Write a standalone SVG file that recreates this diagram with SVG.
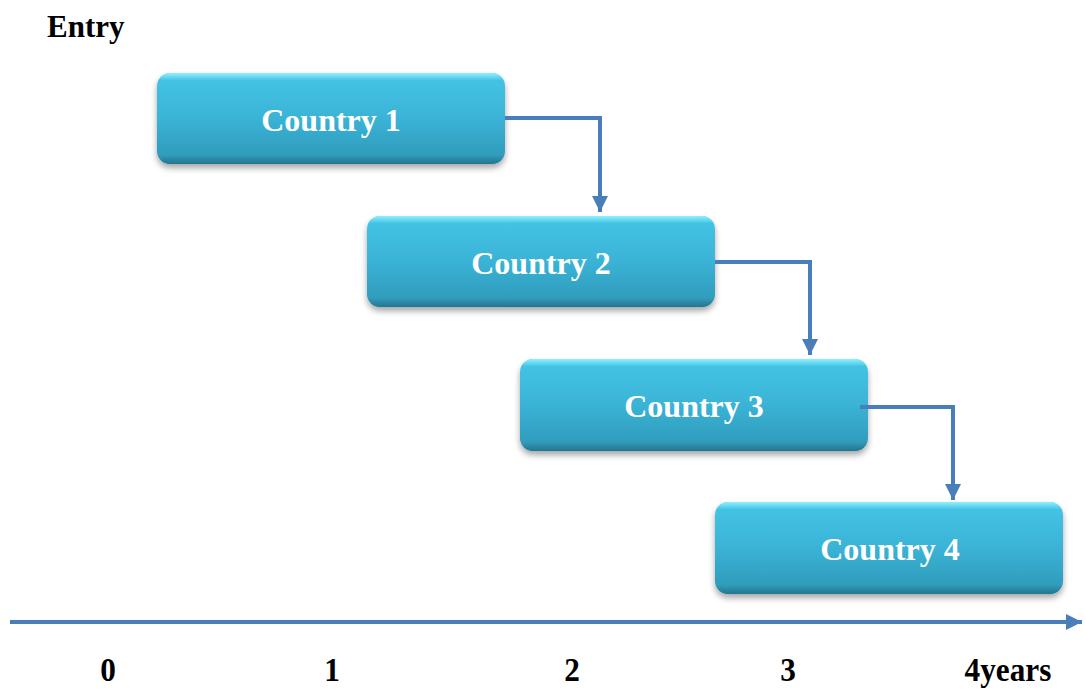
<svg xmlns="http://www.w3.org/2000/svg" width="1086" height="690" viewBox="0 0 1086 690">
<defs>
<linearGradient id="boxg" x1="0" y1="0" x2="0" y2="1">
<stop offset="0" stop-color="#45c6e6"/>
<stop offset="0.5" stop-color="#3ab3d6"/>
<stop offset="1" stop-color="#2e97b6"/>
</linearGradient>
<linearGradient id="edge" x1="0" y1="0" x2="0" y2="1">
<stop offset="0" stop-color="#8ff0ff"/>
<stop offset="0.08" stop-color="#8ff0ff" stop-opacity="0"/>
<stop offset="0.9" stop-color="#1f6f86" stop-opacity="0"/>
<stop offset="1" stop-color="#1f6f86" stop-opacity="0.8"/>
</linearGradient>
<filter id="sh" x="-10%" y="-20%" width="120%" height="150%">
<feGaussianBlur in="SourceAlpha" stdDeviation="3"/>
<feOffset dx="0" dy="4"/>
<feComponentTransfer><feFuncA type="linear" slope="0.35"/></feComponentTransfer>
<feMerge><feMergeNode/><feMergeNode in="SourceGraphic"/></feMerge>
</filter>
<marker id="ah" viewBox="0 0 10 10" refX="10" refY="5" markerWidth="16" markerHeight="16" markerUnits="userSpaceOnUse" orient="auto">
<path d="M0,0 L10,5 L0,10 z" fill="#4a7ebb"/>
</marker>
</defs>
<style>
.box{fill:url(#boxg);filter:url(#sh)}
.bev{fill:url(#edge)}
.lbl{font-family:"Liberation Serif","Times New Roman",serif;font-weight:bold;font-size:32px;fill:#ffffff;text-anchor:middle}
.ax{font-family:"Liberation Serif","Times New Roman",serif;font-weight:bold;font-size:34px;fill:#000000;text-anchor:middle}
.con{fill:none;stroke:#4a7ebb;stroke-width:4}
</style>
<rect width="1086" height="690" fill="#ffffff"/>
<text x="47" y="37" font-family="Liberation Serif, Times New Roman, serif" font-weight="bold" font-size="31" fill="#000">Entry</text>
<g id="country1">
<rect class="box" x="157" y="73" width="348" height="91" rx="13"/>
<rect class="bev" x="157" y="73" width="348" height="91" rx="13"/>
<text class="lbl" x="331" y="131">Country 1</text>
</g>
<g id="country2">
<rect class="box" x="367" y="216" width="348" height="91" rx="13"/>
<rect class="bev" x="367" y="216" width="348" height="91" rx="13"/>
<text class="lbl" x="541" y="274">Country 2</text>
</g>
<g id="country3">
<rect class="box" x="520" y="359" width="348" height="92" rx="13"/>
<rect class="bev" x="520" y="359" width="348" height="92" rx="13"/>
<text class="lbl" x="694" y="417">Country 3</text>
</g>
<g id="country4">
<rect class="box" x="715" y="502" width="348" height="92" rx="13"/>
<rect class="bev" x="715" y="502" width="348" height="92" rx="13"/>
<text class="lbl" x="890" y="560">Country 4</text>
</g>
<g id="connectors">
<polyline class="con" points="505,118 600,118 600,212" marker-end="url(#ah)"/>
<polyline class="con" points="715,262 810,262 810,355" marker-end="url(#ah)"/>
<polyline class="con" points="860,407 953,407 953,500" marker-end="url(#ah)"/>
<line class="con" x1="10" y1="622" x2="1082" y2="622" marker-end="url(#ah)"/>
</g>
<g id="axis-labels">
<text class="ax" transform="translate(108,681) scale(0.92,1)">0</text>
<text class="ax" transform="translate(332,681) scale(0.92,1)">1</text>
<text class="ax" transform="translate(572,681) scale(0.92,1)">2</text>
<text class="ax" transform="translate(788,681) scale(0.92,1)">3</text>
<text class="ax" transform="translate(1008,681) scale(0.92,1)">4years</text>
</g>
</svg>
